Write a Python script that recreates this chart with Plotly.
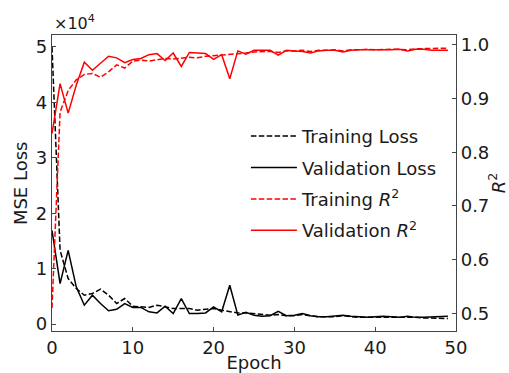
import plotly.graph_objects as go

epochs = list(range(50))

train_loss = [50000, 13300, 8200, 6400, 5200, 5500, 6300, 5200, 3700, 4600,
              3200, 3100, 3000, 3400, 3100, 2800, 2800, 2800, 2500, 2700,
              2800, 2500, 2200, 2000, 2000, 1900, 1700, 1600, 1700, 1500,
              1500, 1700, 1500, 1300, 1300, 1300, 1500, 1300, 1200, 1200,
              1200, 1300, 1200, 1200, 1300, 1200, 1100, 1100, 1000, 1000]

val_loss = [16900, 7300, 13300, 6700, 3400, 5200, 3700, 2400, 2650, 3700,
            3000, 3000, 2200, 2000, 3200, 1900, 4600, 1900, 1900, 2000,
            3100, 2200, 7000, 1600, 2100, 1600, 1400, 1500, 2300, 1500,
            1600, 1900, 1500, 1300, 1300, 1400, 1600, 1400, 1300, 1200,
            1300, 1400, 1300, 1200, 1400, 1200, 1200, 1300, 1400, 1400]

train_r2 = [0.51, 0.875, 0.915, 0.935, 0.945, 0.947, 0.940, 0.950, 0.963, 0.957,
            0.970, 0.972, 0.970, 0.972, 0.975, 0.974, 0.975, 0.977, 0.976, 0.979,
            0.980, 0.981, 0.982, 0.984, 0.985, 0.987, 0.988, 0.988, 0.986, 0.989,
            0.989, 0.990, 0.988, 0.990, 0.990, 0.991, 0.989, 0.991, 0.991, 0.992,
            0.991, 0.992, 0.992, 0.992, 0.991, 0.993, 0.993, 0.993, 0.994, 0.994]

val_r2 = [0.835, 0.928, 0.873, 0.925, 0.968, 0.953, 0.966, 0.979, 0.976, 0.967,
          0.973, 0.975, 0.982, 0.984, 0.971, 0.985, 0.960, 0.986, 0.985, 0.984,
          0.973, 0.982, 0.937, 0.989, 0.983, 0.990, 0.990, 0.990, 0.981, 0.990,
          0.989, 0.988, 0.985, 0.989, 0.990, 0.990, 0.987, 0.990, 0.991, 0.991,
          0.991, 0.990, 0.991, 0.992, 0.989, 0.992, 0.992, 0.990, 0.990, 0.990]

loss_ticks = [0, 10000, 20000, 30000, 40000, 50000]
loss_ticktext = ["0", "1", "2", "3", "4", "5"]
r2_ticks = [0.5, 0.6, 0.7, 0.8, 0.9, 1.0]
x_ticks = [0, 10, 20, 30, 40, 50]

FONT = "DejaVu Sans"
DASH = "5.5px,2.4px"
LW = 1.5
FS = 18

fig = go.Figure()
fig.add_trace(go.Scatter(x=epochs, y=train_loss, mode="lines", name="Training Loss",
                         legendgroup="a",
                         line=dict(color="black", width=LW, dash=DASH), yaxis="y"))
fig.add_trace(go.Scatter(x=epochs, y=val_loss, mode="lines", name="Validation Loss",
                         legendgroup="b",
                         line=dict(color="black", width=LW), yaxis="y"))
fig.add_trace(go.Scatter(x=epochs, y=train_r2, mode="lines", name="Training <i>R</i><sup>2</sup>",
                         legendgroup="c",
                         line=dict(color="red", width=LW, dash=DASH), yaxis="y2"))
fig.add_trace(go.Scatter(x=epochs, y=val_r2, mode="lines", name="Validation <i>R</i><sup>2</sup>",
                         legendgroup="d",
                         line=dict(color="red", width=LW), yaxis="y2"))

axis_color = "#444444"
fig.update_layout(
    width=509, height=373,
    margin=dict(l=52, r=53, t=35, b=42),
    paper_bgcolor="white", plot_bgcolor="white",
    font=dict(family=FONT, size=FS, color="#1a1a1a"),
    showlegend=True,
    legend=dict(x=0.48, y=0.72, xanchor="left", yanchor="top",
                bgcolor="rgba(0,0,0,0)", font=dict(size=FS, family=FONT, color="#1a1a1a"),
                itemwidth=46, tracegroupgap=5),
    xaxis=dict(range=[0, 50], tickvals=x_ticks, showline=True, linecolor=axis_color,
               linewidth=1.2, mirror=True, ticks="inside", ticklen=4, tickcolor=axis_color,
               showgrid=False, zeroline=False, automargin=False,
               title=dict(text="Epoch", font=dict(size=FS), standoff=12)),
    yaxis=dict(range=[-1260, 52160], tickvals=loss_ticks, ticktext=loss_ticktext,
               showline=True, linecolor=axis_color, linewidth=1.2, ticks="inside",
               ticklen=4, tickcolor=axis_color, showgrid=False, zeroline=False,
               automargin=False),
    yaxis2=dict(range=[0.467, 1.0186], tickvals=r2_ticks, tickformat=".1f",
                overlaying="y", side="right", showline=True, linecolor=axis_color,
                linewidth=1.2, ticks="inside", ticklen=4, tickcolor=axis_color,
                showgrid=False, zeroline=False, automargin=False,
                title=dict(text="<i>R</i><sup>2</sup>", font=dict(size=FS), standoff=12)),
    annotations=[
        dict(text="\u00d710<sup>4</sup>", xref="paper", yref="paper",
             x=0.0, y=1.0, xanchor="left", yanchor="bottom", showarrow=False,
             font=dict(size=16, family=FONT, color="#1a1a1a"), yshift=0),
        dict(text="MSE Loss", xref="paper", yref="paper", x=-0.079, y=0.5,
             xanchor="center", yanchor="middle", textangle=-90, showarrow=False,
             font=dict(size=FS, family=FONT, color="#1a1a1a")),
    ],
)

fig.write_html("out.html")
